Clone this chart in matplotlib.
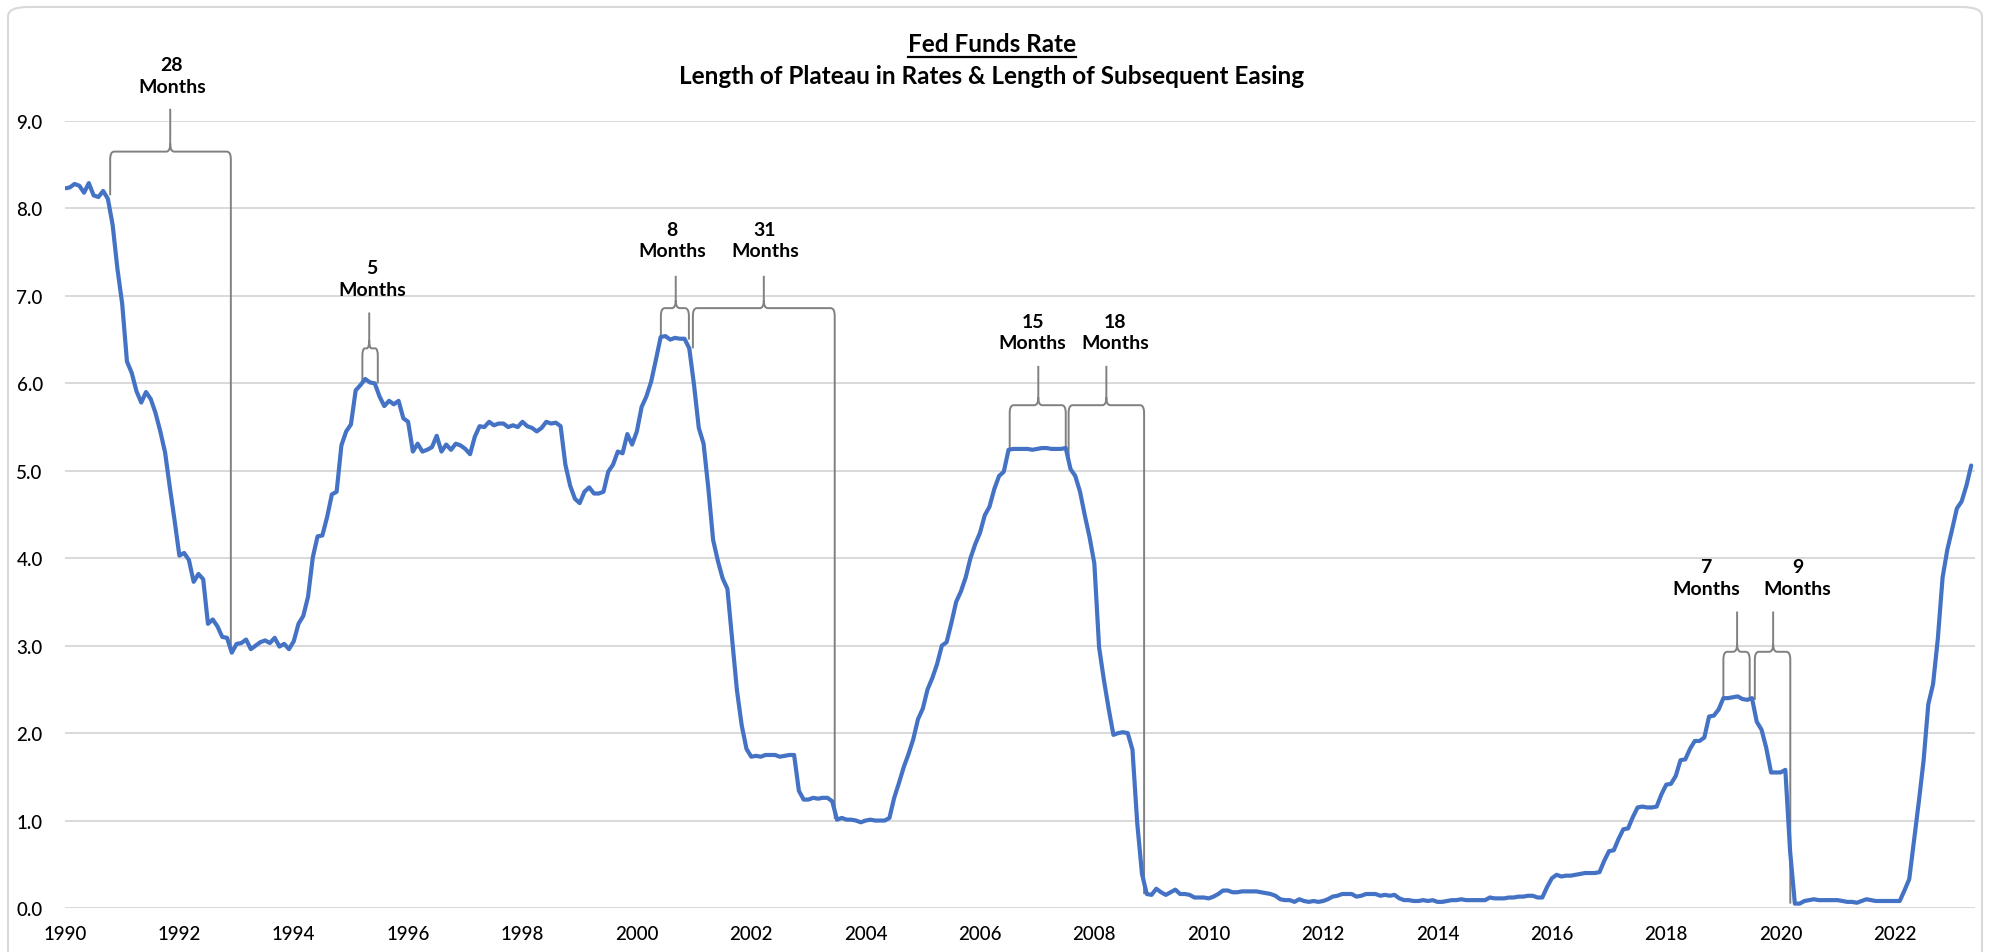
import numpy as np
import matplotlib.pyplot as plt
from matplotlib.path import Path
from matplotlib.patches import PathPatch, FancyBboxPatch
from matplotlib.lines import Line2D

# monthly effective fed funds rate, Jan 1990 .. May 2023
rate = [
    8.23, 8.24, 8.28, 8.26, 8.18, 8.29, 8.15, 8.13, 8.20, 8.11, 7.81, 7.31,  # 1990
    6.91, 6.25, 6.12, 5.91, 5.78, 5.90, 5.82, 5.66, 5.45, 5.21, 4.81, 4.43,  # 1991
    4.03, 4.06, 3.98, 3.73, 3.82, 3.76, 3.25, 3.30, 3.22, 3.10, 3.09, 2.92,  # 1992
    3.02, 3.03, 3.07, 2.96, 3.00, 3.04, 3.06, 3.03, 3.09, 2.99, 3.02, 2.96,  # 1993
    3.05, 3.25, 3.34, 3.56, 4.01, 4.25, 4.26, 4.47, 4.73, 4.76, 5.29, 5.45,  # 1994
    5.53, 5.92, 5.98, 6.05, 6.01, 6.00, 5.85, 5.74, 5.80, 5.76, 5.80, 5.60,  # 1995
    5.56, 5.22, 5.31, 5.22, 5.24, 5.27, 5.40, 5.22, 5.30, 5.24, 5.31, 5.29,  # 1996
    5.25, 5.19, 5.39, 5.51, 5.50, 5.56, 5.52, 5.54, 5.54, 5.50, 5.52, 5.50,  # 1997
    5.56, 5.51, 5.49, 5.45, 5.49, 5.56, 5.54, 5.55, 5.51, 5.07, 4.83, 4.68,  # 1998
    4.63, 4.76, 4.81, 4.74, 4.74, 4.76, 4.99, 5.07, 5.22, 5.20, 5.42, 5.30,  # 1999
    5.45, 5.73, 5.85, 6.02, 6.27, 6.53, 6.54, 6.50, 6.52, 6.51, 6.51, 6.40,  # 2000
    5.98, 5.49, 5.31, 4.80, 4.21, 3.97, 3.77, 3.65, 3.07, 2.49, 2.09, 1.82,  # 2001
    1.73, 1.74, 1.73, 1.75, 1.75, 1.75, 1.73, 1.74, 1.75, 1.75, 1.34, 1.24,  # 2002
    1.24, 1.26, 1.25, 1.26, 1.26, 1.22, 1.01, 1.03, 1.01, 1.01, 1.00, 0.98,  # 2003
    1.00, 1.01, 1.00, 1.00, 1.00, 1.03, 1.26, 1.43, 1.61, 1.76, 1.93, 2.16,  # 2004
    2.28, 2.50, 2.63, 2.79, 3.00, 3.04, 3.26, 3.50, 3.62, 3.78, 4.00, 4.16,  # 2005
    4.29, 4.49, 4.59, 4.79, 4.94, 4.99, 5.24, 5.25, 5.25, 5.25, 5.25, 5.24,  # 2006
    5.25, 5.26, 5.26, 5.25, 5.25, 5.25, 5.26, 5.02, 4.94, 4.76, 4.49, 4.24,  # 2007
    3.94, 2.98, 2.61, 2.28, 1.98, 2.00, 2.01, 2.00, 1.81, 0.97, 0.39, 0.16,  # 2008
    0.15, 0.22, 0.18, 0.15, 0.18, 0.21, 0.16, 0.16, 0.15, 0.12, 0.12, 0.12,  # 2009
    0.11, 0.13, 0.16, 0.20, 0.20, 0.18, 0.18, 0.19, 0.19, 0.19, 0.19, 0.18,  # 2010
    0.17, 0.16, 0.14, 0.10, 0.09, 0.09, 0.07, 0.10, 0.08, 0.07, 0.08, 0.07,  # 2011
    0.08, 0.10, 0.13, 0.14, 0.16, 0.16, 0.16, 0.13, 0.14, 0.16, 0.16, 0.16,  # 2012
    0.14, 0.15, 0.14, 0.15, 0.11, 0.09, 0.09, 0.08, 0.08, 0.09, 0.08, 0.09,  # 2013
    0.07, 0.07, 0.08, 0.09, 0.09, 0.10, 0.09, 0.09, 0.09, 0.09, 0.09, 0.12,  # 2014
    0.11, 0.11, 0.11, 0.12, 0.12, 0.13, 0.13, 0.14, 0.14, 0.12, 0.12, 0.24,  # 2015
    0.34, 0.38, 0.36, 0.37, 0.37, 0.38, 0.39, 0.40, 0.40, 0.40, 0.41, 0.54,  # 2016
    0.65, 0.66, 0.79, 0.90, 0.91, 1.04, 1.15, 1.16, 1.15, 1.15, 1.16, 1.30,  # 2017
    1.41, 1.42, 1.51, 1.69, 1.70, 1.82, 1.91, 1.91, 1.95, 2.19, 2.20, 2.27,  # 2018
    2.40, 2.40, 2.41, 2.42, 2.39, 2.38, 2.40, 2.13, 2.04, 1.83, 1.55, 1.55,  # 2019
    1.55, 1.58, 0.65, 0.05, 0.05, 0.08, 0.09, 0.10, 0.09, 0.09, 0.09, 0.09,  # 2020
    0.09, 0.08, 0.07, 0.07, 0.06, 0.08, 0.10, 0.09, 0.08, 0.08, 0.08, 0.08,  # 2021
    0.08, 0.08, 0.20, 0.33, 0.77, 1.21, 1.68, 2.33, 2.56, 3.08, 3.78, 4.10,  # 2022
    4.33, 4.57, 4.65, 4.83, 5.06,                                            # 2023
]
years = 1990 + np.arange(len(rate)) / 12.0

# brace annotations: label, left leg, right leg, stem x, top, tip, leg bottoms
labels = ["28", "5", "8", "31", "15", "18", "7", "9"]
b_left = [1990.79, 1995.20, 2000.42, 2000.98, 2006.52, 2007.55, 2019.00, 2019.55]
b_right = [1992.90, 1995.47, 2000.91, 2003.46, 2007.50, 2008.87, 2019.46, 2020.17]
b_stem = [1991.84, 1995.32, 2000.68, 2002.22, 2007.02, 2008.21, 2019.24, 2019.87]
b_top = [8.65, 6.40, 6.86, 6.86, 5.75, 5.75, 2.93, 2.93]
b_tip = [9.14, 6.81, 7.23, 7.23, 6.20, 6.20, 3.39, 3.39]
b_bot_l = [8.15, 6.00, 6.50, 6.40, 5.25, 5.10, 2.41, 2.38]
b_bot_r = [2.95, 6.00, 6.50, 1.02, 5.25, 0.16, 2.38, 0.05]
lab_x = [1991.87, 1995.37, 2000.62, 2002.24, 2006.92, 2008.37, 2018.70, 2020.30]
lab_y = [9.52, 7.20, 7.64, 7.64, 6.59, 6.59, 3.78, 3.78]

FONT = ['Lato', 'DejaVu Sans']
plt.rcParams['font.family'] = FONT

fig = plt.figure(figsize=(19.9, 9.53), dpi=100)
fig.patches.append(FancyBboxPatch((8 / 1990, -0.05), 1974 / 1990, 1.05 - 8 / 953,
                                  boxstyle="round,pad=0,rounding_size=0.01",
                                  transform=fig.transFigure, fill=False,
                                  edgecolor='#d9d9d9', linewidth=1.5))
ax = fig.add_axes([65 / 1990, 1 - 909 / 953, 1910 / 1990, 787 / 953])

ax.plot(years, rate, color='#4472C4', lw=3.0, zorder=3, solid_capstyle='round')


def brace(x0, x1, xm, ytop, ytip, yb0, yb1):
    rx = min(0.07, (x1 - x0) / 6)
    ry = 0.09
    verts = [(x0, yb0), (x0, ytop - ry), (x0, ytop), (x0 + rx, ytop),
             (xm - rx, ytop), (xm, ytop), (xm, ytop + ry), (xm, ytip),
             (xm, ytop + ry), (xm, ytop), (xm + rx, ytop),
             (x1 - rx, ytop), (x1, ytop), (x1, ytop - ry), (x1, yb1)]
    codes = [Path.MOVETO, Path.LINETO, Path.CURVE3, Path.CURVE3,
             Path.LINETO, Path.CURVE3, Path.CURVE3, Path.LINETO,
             Path.MOVETO, Path.CURVE3, Path.CURVE3,
             Path.LINETO, Path.CURVE3, Path.CURVE3, Path.LINETO]
    ax.add_patch(PathPatch(Path(verts, codes), fill=False, edgecolor='#808080',
                           lw=1.4, zorder=2, clip_on=False))


for i in range(len(labels)):
    brace(b_left[i], b_right[i], b_stem[i], b_top[i], b_tip[i], b_bot_l[i], b_bot_r[i])
    ax.text(lab_x[i], lab_y[i], labels[i] + "\nMonths", ha='center', va='center',
            fontsize=14, fontweight='bold', linespacing=1.3, color='#000000')

ax.set_xlim(1990, 2023.4)
ax.set_ylim(0, 9)
ax.set_xticks(np.arange(1990, 2023, 2))
ax.set_yticks(np.arange(0, 9.5, 1))
ax.set_yticklabels(["%.1f" % v for v in np.arange(0, 9.5, 1)])
ax.tick_params(length=0, labelsize=13.5, colors='#000000')
ax.tick_params(axis='x', pad=12)
ax.tick_params(axis='y', pad=16)
for lbl in ax.get_xticklabels() + ax.get_yticklabels():
    lbl.set_fontweight('medium')
ax.grid(axis='y', color='#d9d9d9', lw=1.4)
ax.set_axisbelow(True)
for s in ax.spines.values():
    s.set_visible(False)

t1 = fig.text(0.4985, 1 - 45 / 953, "Fed Funds Rate", ha='center', va='center',
              fontsize=17.5, fontweight='bold', color='#000000')
fig.text(0.4985, 1 - 76 / 953, "Length of Plateau in Rates & Length of Subsequent Easing",
         ha='center', va='center', fontsize=17.5, fontweight='bold', color='#000000')

# underline the first title line
fig.canvas.draw()
bb = t1.get_window_extent()
W, H = fig.bbox.width, fig.bbox.height
fig.lines.append(Line2D([bb.x0 / W, bb.x1 / W], [(bb.y0 - 1) / H, (bb.y0 - 1) / H],
                        transform=fig.transFigure, color='#000000', lw=1.6))

fig.savefig("out.png", dpi=100)
